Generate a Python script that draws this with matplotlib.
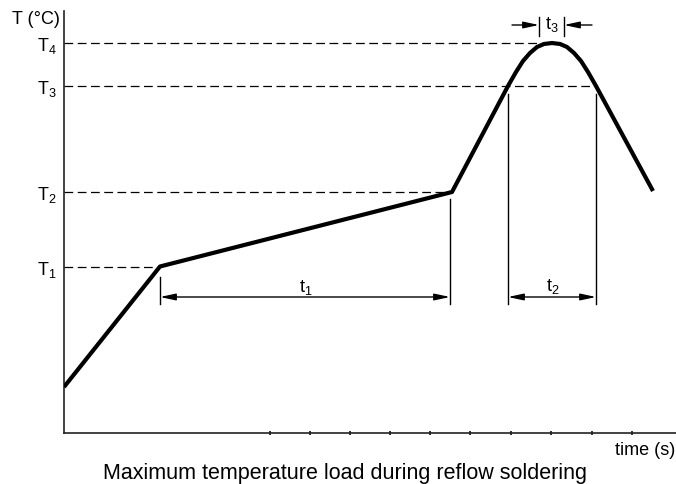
import matplotlib
matplotlib.use("Agg")
import matplotlib.pyplot as plt

plt.rcParams['font.family'] = ['Liberation Sans', 'DejaVu Sans']
plt.rcParams['mathtext.default'] = 'regular'

# ---- data (time units / temperature units, arbitrary) ----
profile_time = [0, 96, 388, 444, 452, 459, 466, 473, 480, 488, 496, 503, 510, 517, 524, 532, 589]
profile_temp = [46, 166.5, 241, 347, 361, 372, 380, 386, 389, 390, 389, 386, 380, 372, 361, 347, 242]

level_names = ['T$_1$', 'T$_2$', 'T$_3$', 'T$_4$']
level_values = [166, 241, 347, 390]
level_ends = [96, 388, 532, 498]

t1_span = (96, 386)
t2_span = (444, 532)
t3_span = (475, 500)
interval_labels = ['t$_1$', 't$_2$', 't$_3$']

x_ticks = [205.5, 246, 286, 326, 366, 406, 447, 487, 528, 568]

FS = 13

# ---- figure ----
W, H = 676, 485
fig = plt.figure(figsize=(W / 100, H / 100), dpi=100)
ax = fig.add_axes([64 / W, 51 / H, (W - 64) / W, 422 / H])
ax.set_xlim(0, W - 64)
ax.set_ylim(0, 422)

for s in ['top', 'right']:
    ax.spines[s].set_visible(False)
for s in ['left', 'bottom']:
    ax.spines[s].set_linewidth(1.2)
    ax.spines[s].set_color('#222222')
ax.set_yticks([])
ax.set_xticks(x_ticks)
ax.set_xticklabels([])
ax.tick_params(axis='x', direction='inout', length=3, width=1.3, color='#222222')

# dashed reference levels
for name, v, e in zip(level_names, level_values, level_ends):
    ax.plot([0, e], [v, v], color='black', lw=0.9, dashes=(7, 3.6), solid_capstyle='butt')
    ax.text(-7, v - 7, name, ha='right', va='baseline', fontsize=FS, clip_on=False)

# profile curve
ax.plot(profile_time, profile_temp, color='black', lw=3, solid_joinstyle='round',
        solid_capstyle='butt', zorder=5)

# interval markers
vlw = 1.0
arrow_y = 136
ax.plot([t1_span[0]] * 2, [156, 129], color='black', lw=vlw)
ax.plot([t1_span[1]] * 2, [234, 129], color='black', lw=vlw)
ax.plot([t2_span[0]] * 2, [339, 129], color='black', lw=vlw)
ax.plot([t2_span[1]] * 2, [339, 129], color='black', lw=vlw)

astyle_d = '<|-|>,head_length=0.93,head_width=0.2'
astyle_s = '-|>,head_length=0.93,head_width=0.2'
for span in (t1_span, t2_span):
    ax.annotate('', xy=(span[1], arrow_y), xytext=(span[0], arrow_y),
                arrowprops=dict(arrowstyle=astyle_d, lw=1.0, color='black',
                                shrinkA=0, shrinkB=0, mutation_scale=10))
ax.text((t1_span[0] + t1_span[1]) / 2 + 0.5, 142, interval_labels[0], ha='center', va='baseline', fontsize=FS)
ax.text((t2_span[0] + t2_span[1]) / 2 + 1, 143, interval_labels[1], ha='center', va='baseline', fontsize=FS)

# t3 marker
t3_y = 408
for xv in t3_span:
    ax.plot([xv, xv], [397, 416], color='black', lw=vlw, clip_on=False)
ax.annotate('', xy=(t3_span[0], t3_y), xytext=(t3_span[0] - 27, t3_y),
            arrowprops=dict(arrowstyle=astyle_s, lw=1.0, color='black',
                            shrinkA=0, shrinkB=0, mutation_scale=10), annotation_clip=False)
ax.annotate('', xy=(t3_span[1], t3_y), xytext=(t3_span[1] + 28, t3_y),
            arrowprops=dict(arrowstyle=astyle_s, lw=1.0, color='black',
                            shrinkA=0, shrinkB=0, mutation_scale=10), annotation_clip=False)
ax.text((t3_span[0] + t3_span[1]) / 2 + 0.5, t3_y + 1, interval_labels[2], ha='center', va='center', fontsize=FS)

# axis labels and caption
fig.text(60 / W, 1 - 24 / H, 'T (°C)', ha='right', va='baseline', fontsize=FS)
fig.text(675 / W, 1 - 455 / H, 'time (s)', ha='right', va='baseline', fontsize=FS)
fig.text(345 / W, 1 - 479 / H, 'Maximum temperature load during reflow soldering',
         ha='center', va='baseline', fontsize=15.5)

fig.savefig('out.png', dpi=100)
